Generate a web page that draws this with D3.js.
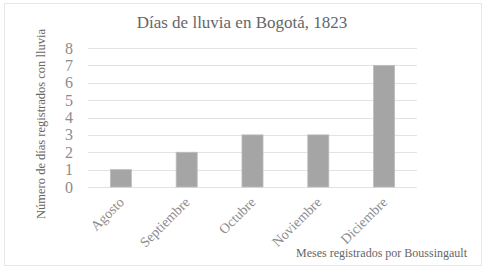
<!DOCTYPE html>
<html>
<head>
<meta charset="utf-8">
<script src="https://cdn.jsdelivr.net/npm/d3@7"></script>
<style>
  body { margin: 0; background: #fff; }
</style>
</head>
<body>
<div id="vis"></div>
<script>
var months = ["Agosto", "Septiembre", "Octubre", "Noviembre", "Diciembre"];
var rainDays = [1, 2, 3, 3, 7];
var yTicks = [0, 1, 2, 3, 4, 5, 6, 7, 8];

var width = 487, height = 271;
var plotLeft = 88, plotRight = 417, plotTop = 48, plotBottom = 187;
var serif = "'Liberation Serif', 'DejaVu Serif', 'Times New Roman', serif";

var svg = d3.select("#vis").append("svg")
    .attr("width", width)
    .attr("height", height)
    .style("font-family", serif);

// outer chart border
svg.append("rect")
    .attr("x", 4.5).attr("y", 3.5)
    .attr("width", 477).attr("height", 262)
    .attr("fill", "#fff")
    .attr("stroke", "#e6e6e6");

var x = d3.scaleBand().domain(months).range([plotLeft, plotRight])
    .paddingInner(0.68).paddingOuter(0.34);
var y = d3.scaleLinear().domain([0, 8]).range([plotBottom, plotTop]);

// gridlines
svg.selectAll("line.grid")
    .data(yTicks)
    .enter().append("line")
    .attr("class", "grid")
    .attr("x1", plotLeft).attr("x2", plotRight)
    .attr("y1", d => Math.round(y(d)) + 0.5)
    .attr("y2", d => Math.round(y(d)) + 0.5)
    .attr("stroke", "#e3e3e3")
    .attr("stroke-width", 1);

// bars
svg.selectAll("rect.bar")
    .data(rainDays)
    .enter().append("rect")
    .attr("class", "bar")
    .attr("x", (d, i) => x(months[i]))
    .attr("y", d => y(d))
    .attr("width", x.bandwidth())
    .attr("height", d => y(0) - y(d))
    .attr("fill", "#a5a5a5")
    .attr("stroke", "#bdbdbd")
    .attr("stroke-width", 0.8);

// y tick labels
svg.selectAll("text.ytick")
    .data(yTicks)
    .enter().append("text")
    .attr("class", "ytick")
    .attr("x", 69)
    .attr("y", d => y(d))
    .attr("dy", "0.35em")
    .attr("text-anchor", "middle")
    .style("font-size", "16px")
    .style("fill", "#8c8c8c")
    .text(d => d);

// x tick labels, rotated
svg.selectAll("text.xtick")
    .data(months)
    .enter().append("text")
    .attr("class", "xtick")
    .attr("text-anchor", "end")
    .attr("transform", d => "translate(" + (x(d) + x.bandwidth() / 2 + 4) + ",203)rotate(-45)")
    .style("font-size", "14px")
    .style("fill", "#8c8c8c")
    .text(d => d);

// title
svg.append("text")
    .attr("x", 242).attr("y", 28)
    .attr("text-anchor", "middle")
    .style("font-size", "17px")
    .style("fill", "#666")
    .text("Días de lluvia en Bogotá, 1823");

// y axis title
svg.append("text")
    .attr("transform", "translate(45,124)rotate(-90)")
    .attr("text-anchor", "middle")
    .style("font-size", "12.5px")
    .style("fill", "#666")
    .text("Número de días registrados con lluvia");

// x axis title
svg.append("text")
    .attr("x", 467).attr("y", 257)
    .attr("text-anchor", "end")
    .style("font-size", "12px")
    .style("fill", "#666")
    .text("Meses registrados por Boussingault");
</script>
</body>
</html>
